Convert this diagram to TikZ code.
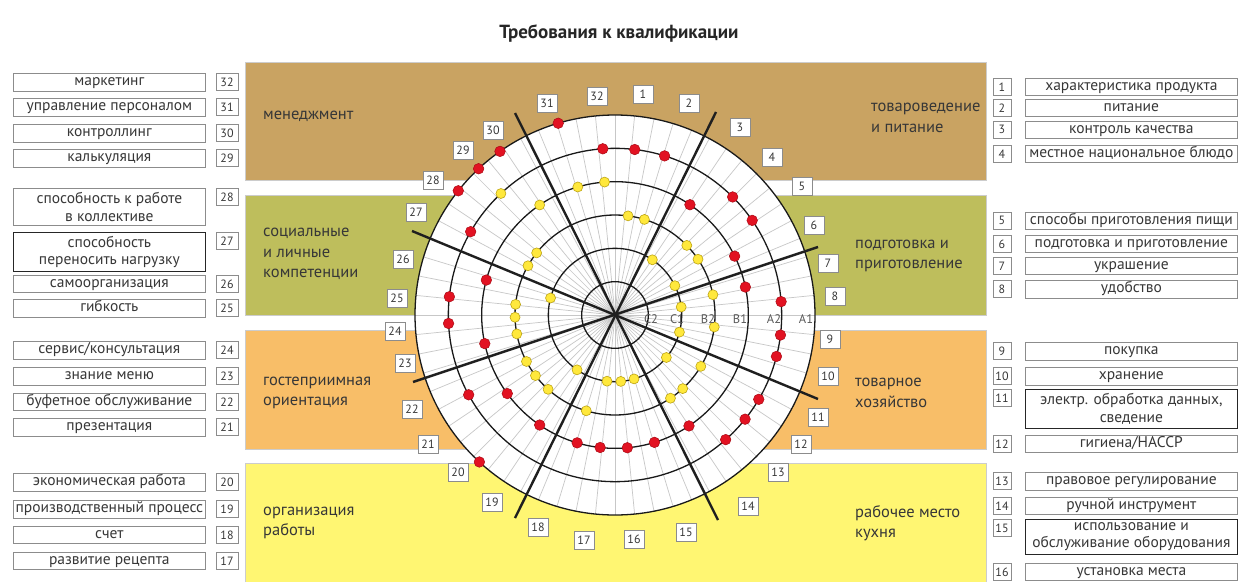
\documentclass[tikz,border=0pt]{standalone}
\usepackage{fontspec}
\setmainfont{PT Sans}
\definecolor{cbrown}{RGB}{201,163,98}
\definecolor{cgreen}{RGB}{190,190,92}
\definecolor{corange}{RGB}{248,190,104}
\definecolor{cyellow}{RGB}{255,246,114}
\definecolor{cred}{RGB}{226,18,34}
\definecolor{credd}{RGB}{170,10,20}
\definecolor{cyel}{RGB}{255,232,60}
\definecolor{cyeld}{RGB}{190,165,20}
\definecolor{txt}{RGB}{55,55,55}
\begin{document}
\begin{tikzpicture}[x=1pt,y=-1pt,
  band/.style={draw=black!20, line width=0.6pt},
  numbox/.style={draw=black!45, fill=white, line width=0.7pt, minimum width=20pt, minimum height=18pt, inner sep=0pt, font=\fontsize{12}{12}\selectfont, text=txt},
  lnum/.style={numbox, anchor=north, minimum width=22pt, minimum height=17pt},
  rnum/.style={numbox, anchor=north, minimum width=18pt, minimum height=17pt},
  listbase/.style={draw=black!45, fill=white, line width=0.7pt, anchor=north west, inner sep=0pt, font=\fontsize{15.5}{17.5}\selectfont, text=txt, align=center},
  one/.style={text height=0.75em, text depth=0.1em},
  lbox/.style={listbase, one, minimum width=192pt},
  lbox2/.style={listbase, minimum width=192pt},
  rbox/.style={listbase, one, minimum width=212pt},
  rbox2/.style={listbase, minimum width=212pt},
  darkbox/.style={draw=black!85},
  cat/.style={anchor=west, align=left, inner sep=0pt, font=\fontsize{16.5}{20.5}\selectfont, text=txt},
  spoke/.style={draw=black!22, line width=0.7pt},
  ring/.style={draw=black!90, line width=1.3pt},
  divider/.style={draw=black!88, line width=2.4pt},
  rdot/.style={fill=cred, draw=credd, line width=0.5pt},
  ydot/.style={fill=cyel, draw=cyeld, line width=0.6pt},
  rlab/.style={font=\fontsize{12.5}{12.5}\selectfont, text=black!65, inner sep=0pt}
]
\useasboundingbox (0,0) rectangle (1238,581);
\fill[white] (0,0) rectangle (1238,581);

% title
\node[font=\bfseries\fontsize{19}{19}\selectfont, text=black!85] (title) at (619,33) {Требования к квалификации};

% bands
\filldraw[band, fill=cbrown] (245,62) rectangle (986,180);
\filldraw[band, fill=cgreen] (245,195) rectangle (986,315);
\filldraw[band, fill=corange] (245,330) rectangle (986,449);
\filldraw[band, fill=cyellow] (245,463) rectangle (986,592);

% category labels
\node[cat] (c1) at (263,116) {менеджмент};
\node[cat] (c2) at (871,118) {товароведение\\и питание};
\node[cat] (c3) at (263,254) {социальные\\и личные\\компетенции};
\node[cat] (c4) at (855,256) {подготовка и\\приготовление};
\node[cat] (c5) at (263,393) {гостеприимная\\ориентация};
\node[cat] (c6) at (855,393) {товарное\\хозяйство};
\node[cat] (c7) at (263,523) {организация\\работы};
\node[cat] (c8) at (855,523) {рабочее место\\кухня};

% chart
\coordinate (C) at (615,315);
\fill[white] (C) circle (200);
\foreach \i in {0,...,63} \draw[spoke] (C) -- ++({-\i*5.625}:200);
\foreach \k in {1,...,6} \draw[ring] (C) circle ({\k*33.333});
\draw[divider] (515,113) -- (718,520);
\draw[divider] (716,112) -- (515,518);
\draw[divider] (412,231) -- (818,399);
\draw[divider] (413,382) -- (818,247);

\foreach \a/\k in {106.5/6,94.2/5,125.1/6,133/6,141.6/6,150/5,164.8/4,173.7/5,182.9/5,192.4/4,208.6/5,216.1/4,235.6/4,253.5/4,263.6/4,227.3/6,275.3/4,287.2/4,303.7/4,311.6/5,321.3/5,329.6/5,345.6/5,353.1/5,4.6/5,12.1/4,26.2/4,34.6/5,45.1/5,55.8/4,72.7/5,83.2/5}
  \filldraw[rdot] (C) ++({-\a}:{\k*33.333}) circle (5.3);
\foreach \a/\k in {94.5/4,106.2/4,133.2/5,124.4/4,141.6/3,150.5/3,165.2/2,173.9/3,181.3/3,190.9/3,207.7/3,217.3/3,228/3,235.3/2,253.3/3,263.1/2,275/2,286.6/2,303.7/3,312.6/3,320.4/2,329.1/3,353.1/3,345.1/2,6.9/2,11.7/3,26.1/2,33.9/3,44.1/3,55.9/2,72.9/3,82.5/3}
  \filldraw[ydot] (C) ++({-\a}:{\k*33.333}) circle (5);

\node[rlab] (C2) at (651,319) {C2};
\node[rlab] (C1) at (677,319) {C1};
\node[rlab] (B2) at (708,319) {B2};
\node[rlab] (B1) at (740,319) {B1};
\node[rlab] (A2) at (774,319) {A2};
\node[rlab] (A1) at (806,319) {A1};

% number boxes around chart
\node[numbox] (n1) at (643,94) {1};
\node[numbox] (n2) at (689,103) {2};
\node[numbox] (n3) at (740,127) {3};
\node[numbox] (n4) at (772,157) {4};
\node[numbox] (n5) at (802,186) {5};
\node[numbox] (n6) at (814,225) {6};
\node[numbox] (n7) at (828,263) {7};
\node[numbox] (n8) at (835,296) {8};
\node[numbox] (n9) at (830,339) {9};
\node[numbox] (n10) at (828,376) {10};
\node[numbox] (n11) at (818,417) {11};
\node[numbox] (n12) at (801,444) {12};
\node[numbox] (n13) at (778,472) {13};
\node[numbox] (n14) at (748,506) {14};
\node[numbox] (n15) at (686,532) {15};
\node[numbox] (n16) at (634,539) {16};
\node[numbox] (n17) at (584,540) {17};
\node[numbox] (n18) at (538,527) {18};
\node[numbox] (n19) at (492,502) {19};
\node[numbox] (n20) at (458,472) {20};
\node[numbox] (n21) at (428,444) {21};
\node[numbox] (n22) at (412,409) {22};
\node[numbox] (n23) at (405,363) {23};
\node[numbox] (n24) at (395,331) {24};
\node[numbox] (n25) at (397,298) {25};
\node[numbox] (n26) at (403,259) {26};
\node[numbox] (n27) at (416,212) {27};
\node[numbox] (n28) at (433,180) {28};
\node[numbox] (n29) at (463,150) {29};
\node[numbox] (n30) at (493,130) {30};
\node[numbox] (n31) at (547,103) {31};
\node[numbox] (n32) at (597,96) {32};

% left list
\node[lbox, minimum height=18pt] (l32) at (13,73) {маркетинг};
\node[lnum] (m32) at (227,73) {32};
\node[lbox, minimum height=18pt] (l31) at (13,98) {управление персоналом};
\node[lnum] (m31) at (227,98) {31};
\node[lbox, minimum height=18pt] (l30) at (13,124) {контроллинг};
\node[lnum] (m30) at (227,124) {30};
\node[lbox, minimum height=18pt] (l29) at (13,149) {калькуляция};
\node[lnum] (m29) at (227,149) {29};
\node[lbox2, minimum height=37pt] (l28) at (13,188) {способность к работе\\в коллективе};
\node[lnum] (m28) at (227,188) {28};
\node[lbox2, darkbox, minimum height=39pt] (l27) at (13,232) {способность\\переносить нагрузку};
\node[lnum] (m27) at (227,232) {27};
\node[lbox, minimum height=17pt] (l26) at (13,275) {самоорганизация};
\node[lnum] (m26) at (227,275) {26};
\node[lbox, minimum height=18pt] (l25) at (13,299) {гибкость};
\node[lnum] (m25) at (227,299) {25};
\node[lbox, minimum height=18pt] (l24) at (13,341) {сервис/консультация};
\node[lnum] (m24) at (227,341) {24};
\node[lbox, minimum height=18pt] (l23) at (13,367) {знание меню};
\node[lnum] (m23) at (227,367) {23};
\node[lbox, minimum height=17pt] (l22) at (13,393) {буфетное обслуживание};
\node[lnum] (m22) at (227,393) {22};
\node[lbox, minimum height=18pt] (l21) at (13,418) {презентация};
\node[lnum] (m21) at (227,418) {21};
\node[lbox, minimum height=18pt] (l20) at (13,473) {экономическая работа};
\node[lnum] (m20) at (227,473) {20};
\node[lbox, minimum height=18pt] (l19) at (13,500) {производственный процесс};
\node[lnum] (m19) at (227,500) {19};
\node[lbox, minimum height=17pt] (l18) at (13,526) {счет};
\node[lnum] (m18) at (227,526) {18};
\node[lbox, minimum height=17pt] (l17) at (13,552) {развитие рецепта};
\node[lnum] (m17) at (227,552) {17};

% right list
\node[rnum] (q1) at (1002,78) {1};
\node[rbox, minimum height=17pt] (r1) at (1025,78) {характеристика продукта};
\node[rnum] (q2) at (1002,99) {2};
\node[rbox, minimum height=17pt] (r2) at (1025,99) {питание};
\node[rnum] (q3) at (1002,121) {3};
\node[rbox, minimum height=17pt] (r3) at (1025,121) {контроль качества};
\node[rnum] (q4) at (1002,145) {4};
\node[rbox, minimum height=17pt] (r4) at (1025,145) {местное национальное блюдо};
\node[rnum] (q5) at (1002,212) {5};
\node[rbox, minimum height=17pt] (r5) at (1025,212) {способы приготовления пищи};
\node[rnum] (q6) at (1002,235) {6};
\node[rbox, minimum height=17pt] (r6) at (1025,235) {подготовка и приготовление};
\node[rnum] (q7) at (1002,257) {7};
\node[rbox, minimum height=17pt] (r7) at (1025,257) {украшение};
\node[rnum] (q8) at (1002,280) {8};
\node[rbox, minimum height=18pt] (r8) at (1025,280) {удобство};
\node[rnum] (q9) at (1002,342) {9};
\node[rbox, minimum height=18pt] (r9) at (1025,342) {покупка};
\node[rnum] (q10) at (1002,367) {10};
\node[rbox, minimum height=18pt] (r10) at (1025,367) {хранение};
\node[rnum] (q11) at (1002,389) {11};
\node[rbox2, darkbox, minimum height=39pt] (r11) at (1025,389) {электр. обработка данных,\\сведение};
\node[rnum] (q12) at (1002,435) {12};
\node[rbox, minimum height=17pt] (r12) at (1025,435) {гигиена/HACCP};
\node[rnum] (q13) at (1002,472) {13};
\node[rbox, minimum height=18pt] (r13) at (1025,472) {правовое регулирование};
\node[rnum] (q14) at (1002,497) {14};
\node[rbox, minimum height=17pt] (r14) at (1025,497) {ручной инструмент};
\node[rnum] (q15) at (1002,519) {15};
\node[rbox2, darkbox, minimum height=35pt] (r15) at (1025,519) {использование и\\обслуживание оборудования};
\node[rnum] (q16) at (1002,563) {16};
\node[rbox, minimum height=17pt] (r16) at (1025,563) {установка места};
\end{tikzpicture}
\end{document}
